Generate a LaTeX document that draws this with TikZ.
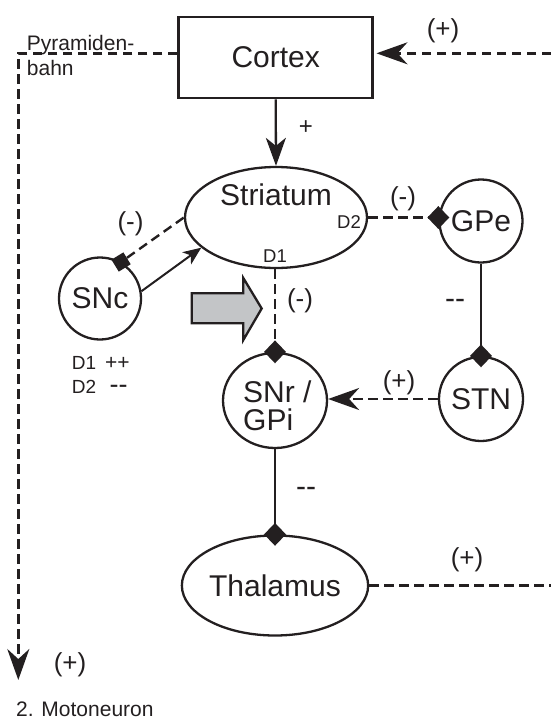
\documentclass[tikz,border=0pt]{standalone}
\usepackage{fontspec}
\setmainfont{Liberation Sans}
\usetikzlibrary{arrows.meta,shapes.geometric}
\definecolor{ink}{RGB}{35,31,32}
\definecolor{arrowgray}{RGB}{195,197,199}
\newcommand\fsz[1]{\fontsize{#1}{#1}\selectfont}
\begin{document}
\begin{tikzpicture}[x=1pt,y=-1pt,
  every node/.style={text=ink},
  big/.style={font=\fsz{30}},
  txt/.style={inner sep=0pt},
  boxnode/.style={draw=ink, line width=2.6pt, minimum width=194pt, minimum height=81pt, inner sep=0pt, big},
  ell/.style={draw=ink, ellipse, line width=2.3pt, inner sep=0pt, big},
  circ/.style={draw=ink, circle, line width=2.3pt, inner sep=0pt, big},
  solidln/.style={draw=ink, line width=2.3pt},
  dsh/.style={draw=ink, line width=2.4pt, dash pattern=on 9.5pt off 5.5pt},
  dtip/.style={-{Stealth[length=31pt,width=22pt,inset=10pt]}},
  dmd/.style={diamond, fill=ink, inner sep=0pt, minimum width=22pt, minimum height=23pt},
  sqr/.style={rectangle, fill=ink, inner sep=0pt, minimum size=14pt}
]
\useasboundingbox (0,0) rectangle (551,720);

% main nodes
\node[boxnode] (cortex) at (275.7,57.5) {Cortex};
\node[ell, minimum width=182pt, minimum height=101pt] (str) at (276,217.5) {};
\node[txt, big] (strlbl) at (276,195) {Striatum};
\node[txt, font=\fsz{18.5}, anchor=base east] (strd2) at (361,228) {D2};
\node[txt, font=\fsz{18.5}, anchor=base west] (strd1) at (263,262) {D1};
\node[circ, minimum size=83pt] (gpe) at (481,221) {GPe};
\node[circ, minimum size=84pt] (stn) at (481,399) {STN};
\node[ell, minimum width=104pt, minimum height=95pt] (snr) at (275,400.5) {};
\node[txt, big, anchor=base west] (snr1) at (243,402) {SNr /};
\node[txt, big, anchor=base west] (snr2) at (243,430) {GPi};
\node[ell, minimum width=178pt, minimum height=100pt] (thal) at (275,585.5) {Thalamus};
\node[circ, minimum size=82pt] (snc) at (100,298.5) {SNc};

% free ends
\coordinate (rin) at (551,53.3);
\coordinate (pyrc) at (18.3,53.3);
\coordinate (moto) at (18.3,680);
\coordinate (thout) at (551,585.5);

% connectors
\draw[solidln, -{Stealth[length=28pt,width=20pt,inset=8pt]}] (cortex.south) -- (str.north);
\draw[dsh, dtip, shorten >=2.5pt] (rin) -- (rin -| cortex.east);
\draw[dsh, dtip] (cortex.west |- pyrc) -- (pyrc) -- (moto);
\draw[dsh] (str.east) -- (str.east -| gpe.west);
\draw[solidln] (gpe.south) -- (stn.north);
\draw[dsh, dtip] (stn.west) -- (stn.west -| snr.east);
\draw[dsh] (snr.north |- str.south) -- (snr.north);
\draw[solidln] (snr.south) -- (thal.north);
\draw[dsh] (thal.east) -- (thout);
\draw[draw=ink, line width=2pt, -{Stealth[length=18pt,width=15pt,inset=5pt]}] (snc.10) -- (str.202);
\node[sqr, rotate=31.6] (sqn) at (snc.60) {};
\draw[dsh] (sqn) -- (str.west);

% inhibitory diamonds
\node[dmd] (dgpe) at (str.east -| gpe.west) {};
\node[dmd] (dstn) at (stn.north) {};
\node[dmd] (dsnr) at (snr.north) {};
\node[dmd] (dthal) at (thal.north) {};

% gray arrow
\filldraw[fill=arrowgray, draw=ink, line width=2.3pt, line join=miter]
  (191.7,293.3) -- (243.3,293.3) -- (243.3,278) -- (261.7,308.5) -- (243.3,340) -- (243.3,323.3) -- (191.7,323.3) -- cycle;

% labels
\node[txt, font=\fsz{26}] (pcort) at (443,30.5) {(+)};
\node[txt, font=\fsz{21}, anchor=base west] (pyr1) at (26.7,50) {Pyramiden-};
\node[txt, font=\fsz{21}, anchor=base west] (pyr2) at (26.7,75) {bahn};
\node[txt, font=\fsz{24}] (plus1) at (306,128) {+};
\node[txt, font=\fsz{26}] (m1) at (403,199) {(-)};
\node[txt, font=\fsz{30}] (mm1) at (455,303.5) {-{}-};
\node[txt, font=\fsz{26}] (p2) at (399,382.5) {(+)};
\node[txt, font=\fsz{26}] (m2) at (300,301) {(-)};
\node[txt, font=\fsz{30}] (mm2) at (306,492) {-{}-};
\node[txt, font=\fsz{26}] (p3) at (467,560) {(+)};
\node[txt, font=\fsz{26}] (p4) at (70,665) {(+)};
\node[txt, font=\fsz{21}, anchor=base west] (motolbl) at (16,716.5) {2. Motoneuron};
\node[txt, font=\fsz{26}] (m3) at (130.5,224) {(-)};
\node[txt, font=\fsz{19}, anchor=north west, align=left] (sncd) at (71.7,356.5)
  {D1\hspace{9pt}{\fsz{21}++}\\[4.3pt]D2\hspace{13.5pt}{\fsz{27}-{}-}};
\end{tikzpicture}
\end{document}
